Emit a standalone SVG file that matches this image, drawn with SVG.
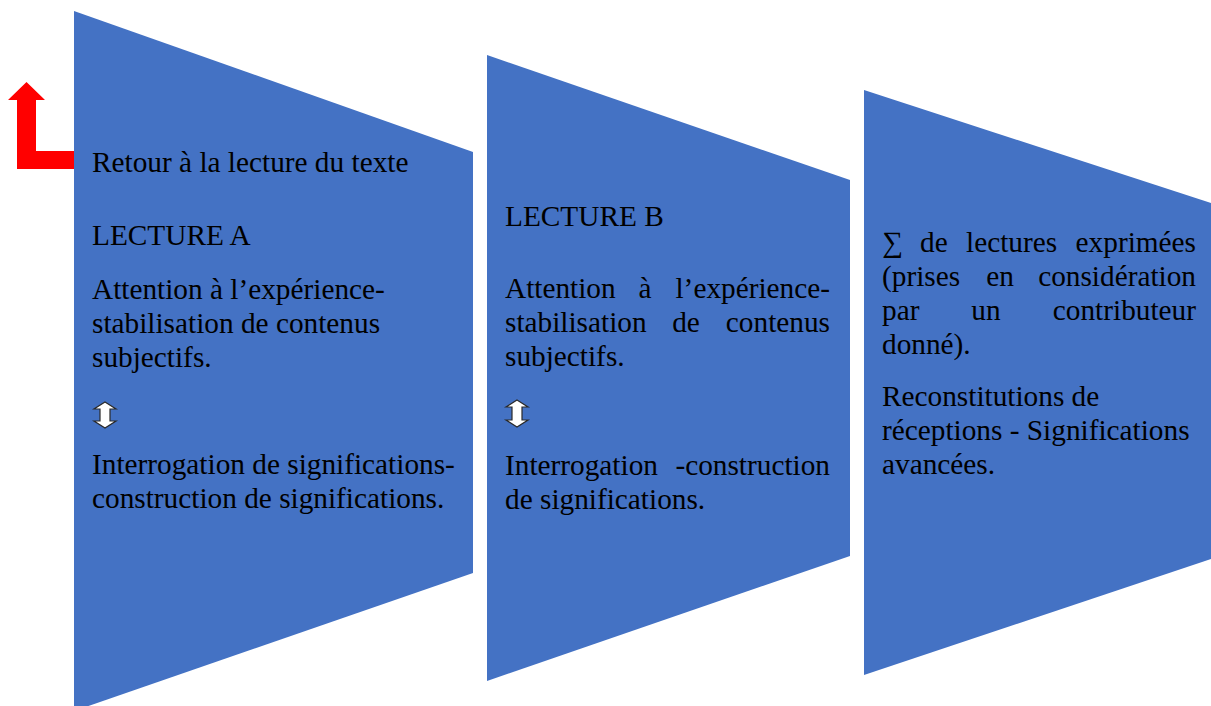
<svg xmlns="http://www.w3.org/2000/svg" width="1211" height="706" viewBox="0 0 1211 706">
<defs>
<style>
.shape{fill:#4472C4;}
.t{font-family:"Liberation Serif","Times New Roman",serif;font-size:29.3px;fill:#000;}
.e{text-anchor:end;}
.m{text-anchor:middle;}
.dbl{fill:#fff;stroke:#2a2a2a;stroke-width:1.2;}
</style>
</defs>
<rect width="1211" height="706" fill="#fff"/>
<g id="connectors">
<polygon points="74,151 36,151 36,100 45,100 26.5,82 8,100 17,100 17,169 74,169" fill="#FF0000"/>
</g>
<g id="node-lecture-a">
<polygon class="shape" points="74,11 473,152 473,573 74,711"/>
<text class="t" x="92" y="172">Retour à la lecture du texte</text>
<text class="t" x="92" y="245">LECTURE A</text>
<text class="t" x="92" y="299">Attention à l’expérience-</text>
<text class="t" x="92" y="333">stabilisation de contenus</text>
<text class="t" x="92" y="367">subjectifs.</text>
<polygon class="dbl" points="105,402 116,409 110,409 110,421 116,421 105,428 94,421 100,421 100,409 94,409"/>
<text class="t" x="92" y="474">Interrogation de significations-</text>
<text class="t" x="92" y="508">construction de significations.</text>
</g>
<g id="node-lecture-b">
<polygon class="shape" points="487,55 850,180 850,556 487,681"/>
<text class="t" x="505" y="226">LECTURE B</text>
<text class="t" x="505" y="298">Attention</text>
<text class="t m" x="645" y="298">à</text>
<text class="t e" x="830" y="298">l’expérience-</text>
<text class="t" x="505" y="332">stabilisation</text>
<text class="t m" x="686" y="332">de</text>
<text class="t e" x="830" y="332">contenus</text>
<text class="t" x="505" y="366">subjectifs.</text>
<polygon class="dbl" points="517,400 528,407 522,407 522,420 528,420 517,427 506,420 512,420 512,407 506,407"/>
<text class="t" x="505" y="475">Interrogation</text>
<text class="t e" x="830" y="475">-construction</text>
<text class="t" x="505" y="509">de significations.</text>
</g>
<g id="node-synthese">
<polygon class="shape" points="864,90 1211,203 1211,559 864,675"/>
<text class="t" x="882" y="252">∑</text>
<text class="t" x="920" y="252">de</text>
<text class="t" x="966" y="252">lectures</text>
<text class="t e" x="1196" y="252">exprimées</text>
<text class="t" x="882" y="286">(prises</text>
<text class="t m" x="1000" y="286">en</text>
<text class="t e" x="1196" y="286">considération</text>
<text class="t" x="882" y="320">par</text>
<text class="t m" x="986" y="320">un</text>
<text class="t e" x="1196" y="320">contributeur</text>
<text class="t" x="882" y="354">donné).</text>
<text class="t" x="882" y="406">Reconstitutions de</text>
<text class="t" x="882" y="440">réceptions - Significations</text>
<text class="t" x="882" y="474">avancées.</text>
</g>
</svg>
